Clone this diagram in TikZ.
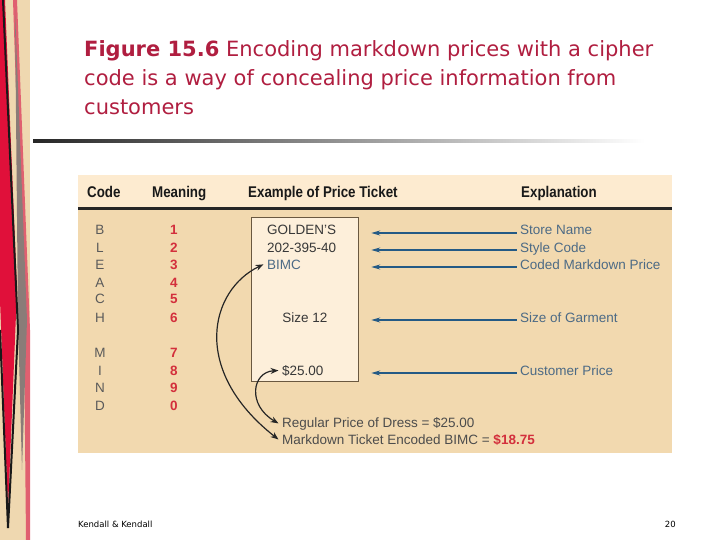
\documentclass[tikz,border=0pt]{standalone}
\usepackage{fontspec}
\setmainfont{Liberation Sans}
\newfontfamily\titlefont{DejaVu Sans}
\newfontfamily\headfont[FakeStretch=0.86]{Liberation Sans}
\usepackage{xcolor}
\usepackage{tikz}
\usetikzlibrary{arrows.meta,positioning,calc}

\definecolor{titlered}{HTML}{B01E40}
\definecolor{headbg}{HTML}{FDEBD0}
\definecolor{panelbg}{HTML}{F2D9AF}
\definecolor{ticketbg}{HTML}{FDEFDA}
\definecolor{ticketline}{HTML}{6A5840}
\definecolor{numred}{HTML}{D32F3C}
\definecolor{arrowblue}{HTML}{245A85}
\definecolor{expltext}{HTML}{4C6A85}
\definecolor{codegray}{HTML}{5A5A5A}
\definecolor{stripbg}{HTML}{EFD8B0}
\definecolor{stripred}{HTML}{E0103A}
\definecolor{strippink}{HTML}{E06070}
\definecolor{stripgray}{HTML}{8A7C78}

\begin{document}
\begin{tikzpicture}[
    x=1pt, y=-1pt,
    body/.style={font=\fontsize{13.5}{13.5}\selectfont},
    code/.style={body, anchor=base, text=codegray},
    digit/.style={body, anchor=base, text=numred, font=\fontsize{13.5}{13.5}\selectfont\bfseries},
    head/.style={anchor=base west, inner sep=0pt, text=black!90, font=\headfont\fontsize{15.5}{15.5}\selectfont\bfseries},
    tick/.style={body, anchor=base west, text=black!78},
    expl/.style={body, anchor=base west, text=expltext},
    point/.style={draw=arrowblue, line width=1.5pt, -{Stealth[length=9pt,width=5pt]}},
    link/.style={draw=black!85, line width=1.2pt, {Stealth[length=8pt,width=6pt]}-{Stealth[length=8pt,width=6pt]}}
]
\useasboundingbox (0,0) rectangle (720,540);

% side strip
\fill[stripbg] (0,0) rectangle (30,540);
\fill[strippink] (13,0) -- (17,0) -- (30,330) -- (30,540) -- (26,540) -- (24,330) -- cycle;
\fill[stripgray] (15,10) -- (27,320) -- (22,470) -- (18,320) -- cycle;
\fill[stripred] (0,0) -- (5,0) -- (17,290) -- (8,510) -- (0,300) -- cycle;
\draw[black!90, line width=2pt] (3,0) -- (18,330) -- (8,528);
\draw[black!90, line width=2pt] (0,330) -- (8,528);

% title
\node[anchor=north west, inner sep=0pt, align=left, text=titlered,
      font=\titlefont\fontsize{21}{29}\selectfont] (title) at (84,40)
  {\textbf{Figure 15.6} Encoding markdown prices with a cipher\\
   code is a way of concealing price information from\\
   customers};
\shade[left color=black!85, right color=white] (33,139.5) rectangle (645,142.5);

% panel
\fill[headbg] (78,175) rectangle (672,207);
\fill[panelbg] (78,207) rectangle (672,453);
\draw[black!85, line width=2.5pt] (78,208.5) -- (672,208.5);

\node[head] (hcode) at (87,197) {Code};
\node[head] (hmean) at (152,197) {Meaning};
\node[head] (hexample) at (248,197) {Example of Price Ticket};
\node[head] (hexpl) at (521,197) {Explanation};

% cipher rows
\foreach \c/\d/\y in {B/1/235, L/2/252, E/3/269, A/4/287, C/5/303, H/6/322,
                      M/7/357, I/8/375, N/9/392, D/0/410} {
  \node[code] (c\d) at (100,\y) {\c};
  \node[digit] (m\d) at (174,\y) {\d};
}

% ticket
\node[draw=ticketline, line width=1.2pt, fill=ticketbg, anchor=north west,
      minimum width=107pt, minimum height=164pt] (ticket) at (251,217) {};
\node[tick] (store) at (263.5,235) {GOLDEN'S};
\node[tick] (style) at (263.5,252) {202-395-40};
\node[tick, text=expltext] (bimc) at (263.5,269) {BIMC};
\node[tick, anchor=base] (size) at (305,322) {Size 12};
\node[tick] (price) at (278.5,375) {\$25.00};

% explanations
\node[expl] (estore) at (516.5,235) {Store Name};
\node[expl] (estyle) at (516.5,252) {Style Code};
\node[expl] (ecoded) at (516.5,269) {Coded Markdown Price};
\node[expl] (esize) at (516.5,322) {Size of Garment};
\node[expl] (eprice) at (516.5,375) {Customer Price};

\foreach \e in {estore, estyle, ecoded, esize, eprice}
  \draw[point] ([yshift=2pt]\e.base west) -- ([xshift=12pt,yshift=2pt]\e.base west -| ticket.east);

% markdown note
\node[tick, text=black!70] (regular) at (278.5,427) {Regular Price of Dress = \$25.00};
\node[tick, text=black!70] (markdown) at (278.5,444) {Markdown Ticket Encoded BIMC = \textcolor{numred}{\textbf{\$18.75}}};

\draw[link] (bimc.west) .. controls (210,290) and (190,370) .. (markdown.west);
\draw[link] (price.west) .. controls (252,372) and (247,405) .. (regular.west);

% footer
\node[anchor=base west, inner sep=0pt, font=\titlefont\fontsize{8.5}{8.5}\selectfont] (author) at (78,527) {Kendall \& Kendall};
\node[anchor=base east, inner sep=0pt, font=\titlefont\fontsize{8.5}{8.5}\selectfont] (page) at (676,527) {20};
\end{tikzpicture}
\end{document}
